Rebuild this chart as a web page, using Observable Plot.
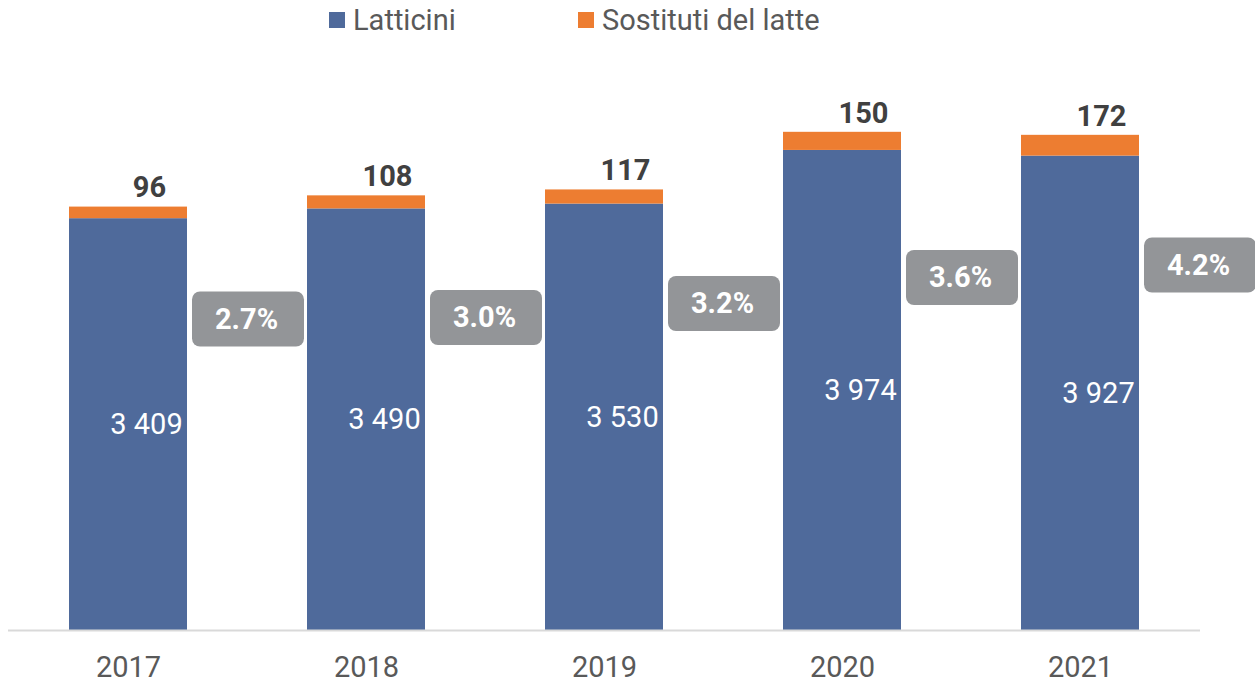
<!DOCTYPE html>
<html>
<head>
<meta charset="utf-8">
<script src="https://cdn.jsdelivr.net/npm/d3@7"></script>
<script src="https://cdn.jsdelivr.net/npm/@observablehq/plot@0.6"></script>
<style>
  html, body { margin: 0; padding: 0; background: #fff; }
  body { width: 1255px; height: 683px; overflow: hidden; font-family: Roboto, sans-serif; }
  #legend { position: relative; height: 40px; color: #595959; font-size: 29px; }
  .item { position: absolute; top: 0; height: 40px; display: flex; align-items: center; white-space: nowrap; }
  .sw { width: 16px; height: 16px; margin-right: 8px; }
</style>
</head>
<body>
<div id="legend"></div>
<div id="chart"></div>
<script>
const years = ["2017", "2018", "2019", "2020", "2021"];
const latticini = [3409, 3490, 3530, 3974, 3927];
const sostituti = [96, 108, 117, 150, 172];
// vertical position (in value units) where the share callouts sit
const shareLabelPos = [2574, 2587, 2703, 2918, 3022];
const seriesNames = ["Latticini", "Sostituti del latte"];
const seriesColors = ["#4F6A9B", "#ED7D31"];

// legend
const legend = document.getElementById("legend");
const legendX = [329, 578];
seriesNames.forEach((n, i) => {
  const it = document.createElement("div");
  it.className = "item";
  it.style.left = legendX[i] + "px";
  it.innerHTML = `<span class="sw" style="background:${seriesColors[i]}"></span><span>${n}</span>`;
  legend.appendChild(it);
});

const fmt = d3.formatLocale({decimal: ".", thousands: " ", grouping: [3], currency: ["", ""]}).format(",d");

const long = [];
years.forEach((y, i) => {
  long.push({year: y, series: seriesNames[0], value: latticini[i]});
  long.push({year: y, series: seriesNames[1], value: sostituti[i]});
});
const rows = years.map((y, i) => ({
  year: y,
  lat: latticini[i],
  sos: sostituti[i],
  total: latticini[i] + sostituti[i],
  share: sostituti[i] / (latticini[i] + sostituti[i]),
  pos: shareLabelPos[i]
}));
const boxHalf = 228;

const chart = Plot.plot({
  width: 1255,
  height: 643,
  marginLeft: 8,
  marginRight: 55,
  marginTop: 0,
  marginBottom: 53,
  style: {fontFamily: "Roboto, sans-serif", fontSize: "29px", color: "#595959", background: "transparent", overflow: "visible"},
  x: {domain: years, paddingInner: 0.505, paddingOuter: 0.2525, label: null},
  y: {domain: [0, 4884], axis: null},
  color: {domain: seriesNames, range: seriesColors},
  marks: [
    Plot.axisX({tickSize: 0, tickPadding: 26, fontSize: 29, fill: "#595959", label: null}),
    Plot.barY(long, {x: "year", y: "value", fill: "series", order: seriesNames}),
    Plot.ruleY([0], {stroke: "#D9D9D9", strokeWidth: 2}),
    Plot.text(rows, {x: "year", y: d => d.lat / 2, text: d => fmt(d.lat), fill: "white", dx: 18, fontSize: 29}),
    Plot.text(rows, {x: "year", y: "total", text: d => String(d.sos), fill: "#404040", fontWeight: "bold", dx: 21, dy: -19, fontSize: 29}),
    Plot.barY(rows, {x: "year", y1: d => d.pos - boxHalf, y2: d => d.pos + boxHalf, dx: 120, insetLeft: 3, insetRight: 3, rx: 8, fill: "#939598"}),
    Plot.text(rows, {x: "year", y: "pos", text: d => d3.format(".1f")(d.share * 100) + "%", fill: "white", fontWeight: "bold", dx: 118, fontSize: 29})
  ]
});
document.getElementById("chart").appendChild(chart);
</script>
</body>
</html>
